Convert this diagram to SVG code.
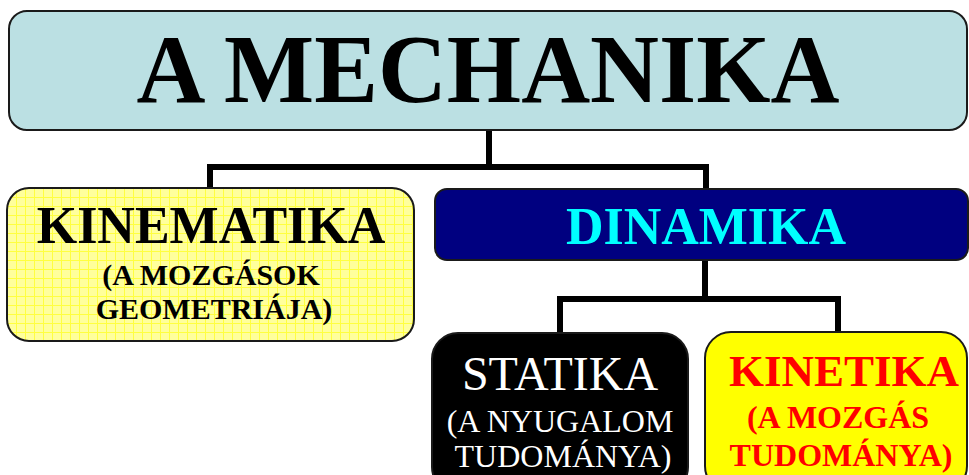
<svg xmlns="http://www.w3.org/2000/svg" width="969" height="475" viewBox="0 0 969 475">
  <defs>
    <!-- light yellow squared-paper fill -->
    <pattern id="grid" x="7" y="188" width="9" height="9" patternUnits="userSpaceOnUse">
      <rect width="9" height="9" fill="#FFFF9C"/>
      <path d="M0 0.5H9M0.5 0V9" stroke="#FFFF40" stroke-width="1" fill="none"/>
    </pattern>
    <style>
      .box { stroke: #1a1a1a; stroke-width: 2; }
      .wire { fill: none; stroke: #000; stroke-width: 6; stroke-linejoin: miter; }
      .t { font-family: "Liberation Serif", "Times New Roman", serif; text-anchor: middle; }
      .b { font-weight: bold; }
    </style>
  </defs>

  <!-- connectors -->
  <g id="connectors">
    <path class="wire" d="M489 130V167M210 188V167H706V188"/>
    <path class="wire" d="M705 260V299M560 333V299H838V333"/>
  </g>

  <g id="mechanika">
    <rect class="box" x="9" y="11" width="958" height="119" rx="18" fill="#BBE0E3"/>
    <text class="t b" x="488" y="102" font-size="97" textLength="703" lengthAdjust="spacingAndGlyphs" fill="#000">A MECHANIKA</text>
  </g>

  <g id="kinematika">
    <rect class="box" x="7" y="188" width="407" height="153" rx="22" fill="url(#grid)"/>
    <text class="t b" x="211" y="243" font-size="52" fill="#000">KINEMATIKA</text>
    <text class="t b" x="211" y="285" font-size="30" fill="#000">(A MOZGÁSOK</text>
    <text class="t b" x="214" y="319" font-size="30" fill="#000">GEOMETRIÁJA)</text>
  </g>

  <g id="dinamika">
    <rect class="box" x="435" y="189" width="533" height="71" rx="12" fill="#000080"/>
    <text class="t b" x="706" y="244" font-size="52" fill="#00FFFF">DINAMIKA</text>
  </g>

  <g id="statika">
    <rect class="box" x="432" y="333" width="256" height="160" rx="26" fill="#000"/>
    <text class="t" x="560" y="390" font-size="48" fill="#FFF">STATIKA</text>
    <text class="t" x="560" y="432" font-size="32" fill="#FFF">(A NYUGALOM</text>
    <text class="t" x="563" y="467" font-size="32" fill="#FFF">TUDOMÁNYA)</text>
  </g>

  <g id="kinetika">
    <rect class="box" x="705" y="332" width="262" height="160" rx="26" fill="#FFFF00"/>
    <text class="t b" x="844" y="386" font-size="45" fill="#FF0000">KINETIKA</text>
    <text class="t b" x="838" y="428" font-size="32" fill="#FF0000">(A MOZGÁS</text>
    <text class="t b" x="841" y="466" font-size="32" fill="#FF0000">TUDOMÁNYA)</text>
  </g>
</svg>
